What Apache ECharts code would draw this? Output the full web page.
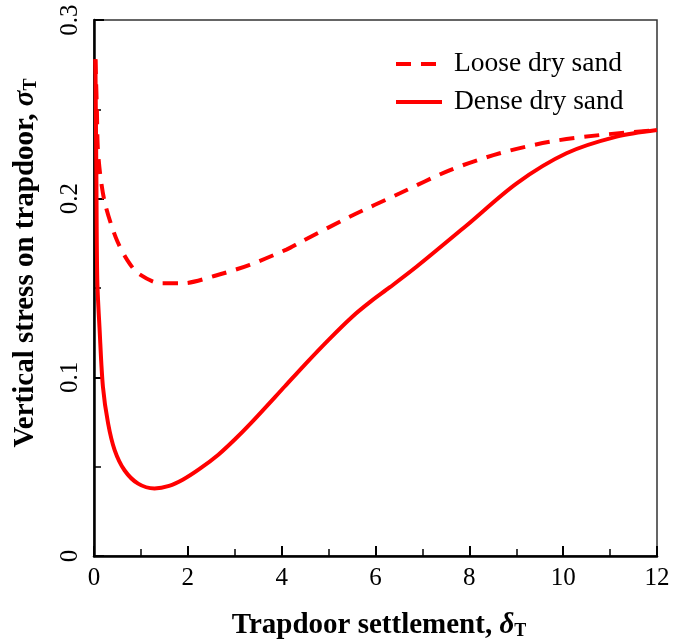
<!DOCTYPE html>
<html>
<head>
<meta charset="utf-8">
<script src="https://cdn.jsdelivr.net/npm/echarts@6/dist/echarts.min.js"></script>
<style>
  html, body { margin: 0; padding: 0; background: #fff; }
  #chart { width: 673px; height: 643px; }
</style>
</head>
<body>
<div id="chart"></div>
<script>
// Trapdoor settlement (x) and vertical stress on trapdoor (y)
const looseSettlement = [0.03, 0.06, 0.08, 0.13, 0.22, 0.36, 0.5, 0.7, 0.95, 1.44, 1.87, 2.6, 3.32, 4.1, 4.39, 5.46, 6.52, 7.59, 8.65, 9.72, 10.78, 12.0];
const looseStress     = [0.278, 0.2515, 0.229, 0.214, 0.199, 0.186, 0.176, 0.166, 0.158, 0.1526, 0.1526, 0.157, 0.163, 0.1715, 0.1755, 0.19, 0.203, 0.216, 0.2254, 0.2319, 0.2356, 0.2384];

const denseSettlement = [0.03, 0.05, 0.07, 0.12, 0.19, 0.30, 0.44, 0.65, 0.94, 1.29, 1.60, 1.90, 2.25, 2.65, 3.00, 3.35, 4.07, 4.50, 5.00, 5.50, 5.90, 6.30, 6.88, 7.94, 9.01, 10.07, 11.14, 12.0];
const denseStress     = [0.278, 0.215, 0.1545, 0.1265, 0.0948, 0.0743, 0.0593, 0.048, 0.0405, 0.0378, 0.0392, 0.0428, 0.0487, 0.0567, 0.0652, 0.0745, 0.095, 0.1073, 0.121, 0.1338, 0.1425, 0.1503, 0.162, 0.185, 0.2086, 0.2254, 0.2347, 0.2384];

const seriesNames = ['Loose dry sand', 'Dense dry sand'];

const xTitle = 'Trapdoor settlement, ';
const yTitle = 'Vertical stress on trapdoor, ';

const pairs = (xs, ys) => xs.map((x, i) => [x, ys[i]]);

const SERIF = '"Liberation Serif", "Times New Roman", serif';
const RED = '#ff0000';

const titleRich = {
  b: { fontFamily: SERIF, fontSize: 29, fontWeight: 'bold', fill: '#000' },
  s: { fontFamily: SERIF, fontSize: 29, fontWeight: 'bold', fontStyle: 'italic', fill: '#000' },
  t: { fontFamily: SERIF, fontSize: 18, fontWeight: 'bold', fill: '#000', verticalAlign: 'bottom', padding: [11, 0, 0, 0] }
};

const chart = echarts.init(document.getElementById('chart'), null, { renderer: 'canvas' });

chart.setOption({
  animation: false,
  backgroundColor: '#ffffff',
  grid: {
    left: 94, right: 16, top: 20, bottom: 87,
    show: true, borderColor: '#333', borderWidth: 1.5, backgroundColor: 'transparent'
  },
  legend: {
    orient: 'vertical',
    left: 389, top: 45,
    itemWidth: 46, itemHeight: 14,
    itemGap: 10,
    data: seriesNames,
    itemStyle: { opacity: 0 },
    lineStyle: { width: 4 },
    textStyle: {
      fontFamily: SERIF, fontSize: 27.5, color: '#000',
      lineHeight: 28, padding: [0, 0, 0, 7]
    }
  },
  xAxis: {
    type: 'value', min: 0, max: 12, interval: 2,
    axisLine: { show: true, onZero: false, lineStyle: { color: '#000', width: 2.5 } },
    axisTick: { show: true, inside: true, length: 10, lineStyle: { color: '#000', width: 2 } },
    minorTick: { show: true, splitNumber: 2, length: 7, lineStyle: { color: '#000', width: 1.5 } },
    splitLine: { show: false },
    axisLabel: { fontFamily: SERIF, fontSize: 25, color: '#000', margin: 10 }
  },
  yAxis: {
    type: 'value', min: 0, max: 0.3, interval: 0.1,
    axisLine: { show: true, onZero: false, lineStyle: { color: '#000', width: 2.5 } },
    axisTick: { show: true, inside: true, length: 10, lineStyle: { color: '#000', width: 2 } },
    minorTick: { show: true, splitNumber: 2, length: 7, lineStyle: { color: '#000', width: 1.5 } },
    splitLine: { show: false },
    axisLabel: {
      fontFamily: SERIF, fontSize: 25, color: '#000', margin: 11, rotate: 90,
      formatter: v => (v === 0 ? '0' : String(+v.toFixed(1)))
    }
  },
  graphic: [
    {
      type: 'text',
      x: 379, y: 626,
      style: {
        text: '{b|' + xTitle + '}{s|δ}{t|T}',
        align: 'center', verticalAlign: 'middle',
        rich: titleRich
      }
    },
    {
      type: 'text',
      x: 26, y: 263,
      rotation: Math.PI / 2,
      style: {
        text: '{b|' + yTitle + '}{s|σ}{t|T}',
        align: 'center', verticalAlign: 'middle',
        rich: titleRich
      }
    }
  ],
  series: [
    {
      name: seriesNames[0],
      type: 'line',
      data: pairs(looseSettlement, looseStress),
      smooth: 0.3,
      showSymbol: false, symbol: 'none',
      lineStyle: { color: RED, width: 4, type: [15, 10] },
      itemStyle: { color: RED },
      z: 3
    },
    {
      name: seriesNames[1],
      type: 'line',
      data: pairs(denseSettlement, denseStress),
      smooth: 0.3,
      showSymbol: false, symbol: 'none',
      lineStyle: { color: RED, width: 4, type: 'solid' },
      itemStyle: { color: RED },
      z: 3
    }
  ]
});
</script>
</body>
</html>
